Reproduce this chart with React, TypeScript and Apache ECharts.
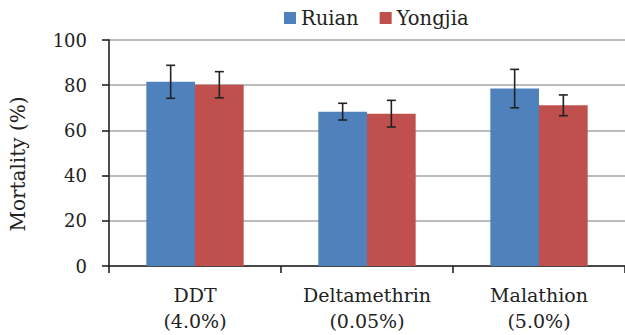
import React, { useEffect, useRef } from "react";
import * as echarts from "echarts";

const categories = ["DDT\n(4.0%)", "Deltamethrin\n(0.05%)", "Malathion\n(5.0%)"];
const seriesNames = ["Ruian", "Yongjia"];
const ruian = [81.5, 68.3, 78.5];
const yongjia = [80.2, 67.4, 71.1];
const ruianErr = [7.3, 3.7, 8.5];
const yongjiaErr = [5.8, 5.9, 4.6];
const yTicks = { min: 0, max: 100, interval: 20 };

const FONT = "DejaVu Serif";
const TEXT = "#222222";
const CAT_GAP = 43.4; // percent

export default function App() {
  const ref = useRef<HTMLDivElement>(null);
  useEffect(() => {
    document.body.style.margin = "0";
    const chart = echarts.init(ref.current!, null, { renderer: "svg" });
    const barFrac = (1 - CAT_GAP / 100) / 2;
    const errData = (vals: number[], errs: number[], side: number) =>
      vals.map((v, i) => [i, v, errs[i], side]);
    const renderErr = (params: any, api: any) => {
      const i = api.value(0);
      const m = api.value(1);
      const e = api.value(2);
      const side = api.value(3);
      const band = api.size([1, 0])[0];
      const c = api.coord([i, m]);
      const x = c[0] + side * band * barFrac / 2;
      const top = api.coord([i, m + e])[1];
      const bot = api.coord([i, m - e])[1];
      const cap = 4.5;
      const style = { stroke: TEXT, lineWidth: 1.6 };
      return {
        type: "group",
        children: [
          { type: "line", shape: { x1: x, y1: top, x2: x, y2: bot }, style },
          { type: "line", shape: { x1: x - cap, y1: top, x2: x + cap, y2: top }, style },
          { type: "line", shape: { x1: x - cap, y1: bot, x2: x + cap, y2: bot }, style },
        ],
      };
    };
    chart.setOption({
      animation: false,
      textStyle: { fontFamily: FONT, color: TEXT },
      legend: {
        data: seriesNames,
        left: 279,
        top: 3,
        icon: "rect",
        itemWidth: 12,
        itemHeight: 12,
        itemGap: 21,
        textStyle: { fontFamily: FONT, fontSize: 19.5, color: TEXT },
      },
      grid: { left: 109, right: -4, top: 40, bottom: 69, containLabel: false },
      xAxis: {
        type: "category",
        data: categories,
        axisLine: { lineStyle: { color: TEXT, width: 1.6 } },
        axisTick: { show: true, length: 7, lineStyle: { color: TEXT, width: 1.6 } },
        axisLabel: {
          fontFamily: FONT,
          fontSize: 19,
          color: TEXT,
          lineHeight: 26,
          margin: 16,
          interval: 0,
        },
      },
      yAxis: {
        type: "value",
        min: yTicks.min,
        max: yTicks.max,
        interval: yTicks.interval,
        axisLine: { show: true, lineStyle: { color: TEXT, width: 1.6 } },
        axisTick: { show: true, length: 7, lineStyle: { color: TEXT, width: 1.6 } },
        axisLabel: { fontFamily: FONT, fontSize: 18, color: TEXT, margin: 22 },
        splitLine: { show: true, lineStyle: { color: "#a6a6a6", width: 1.6 } },
      },
      graphic: [
        {
          type: "text",
          x: 18,
          y: 164,
          rotation: Math.PI / 2,
          style: {
            text: "Mortality (%)",
            fontFamily: FONT,
            fontSize: 20,
            fill: TEXT,
            align: "center",
            verticalAlign: "middle",
          },
        },
      ],
      series: [
        {
          name: seriesNames[0],
          type: "bar",
          data: ruian,
          barGap: "0%",
          barCategoryGap: CAT_GAP + "%",
          itemStyle: { color: "#4F81BD" },
        },
        {
          name: seriesNames[1],
          type: "bar",
          data: yongjia,
          barGap: "0%",
          barCategoryGap: CAT_GAP + "%",
          itemStyle: { color: "#C0504D" },
        },
        {
          type: "custom",
          renderItem: renderErr,
          data: errData(ruian, ruianErr, -1),
          encode: { x: 0, y: 1 },
          z: 10,
        },
        {
          type: "custom",
          renderItem: renderErr,
          data: errData(yongjia, yongjiaErr, 1),
          encode: { x: 0, y: 1 },
          z: 10,
        },
      ],
    });
    return () => chart.dispose();
  }, []);
  return <div ref={ref} style={{ width: 625, height: 335 }} />;
}
